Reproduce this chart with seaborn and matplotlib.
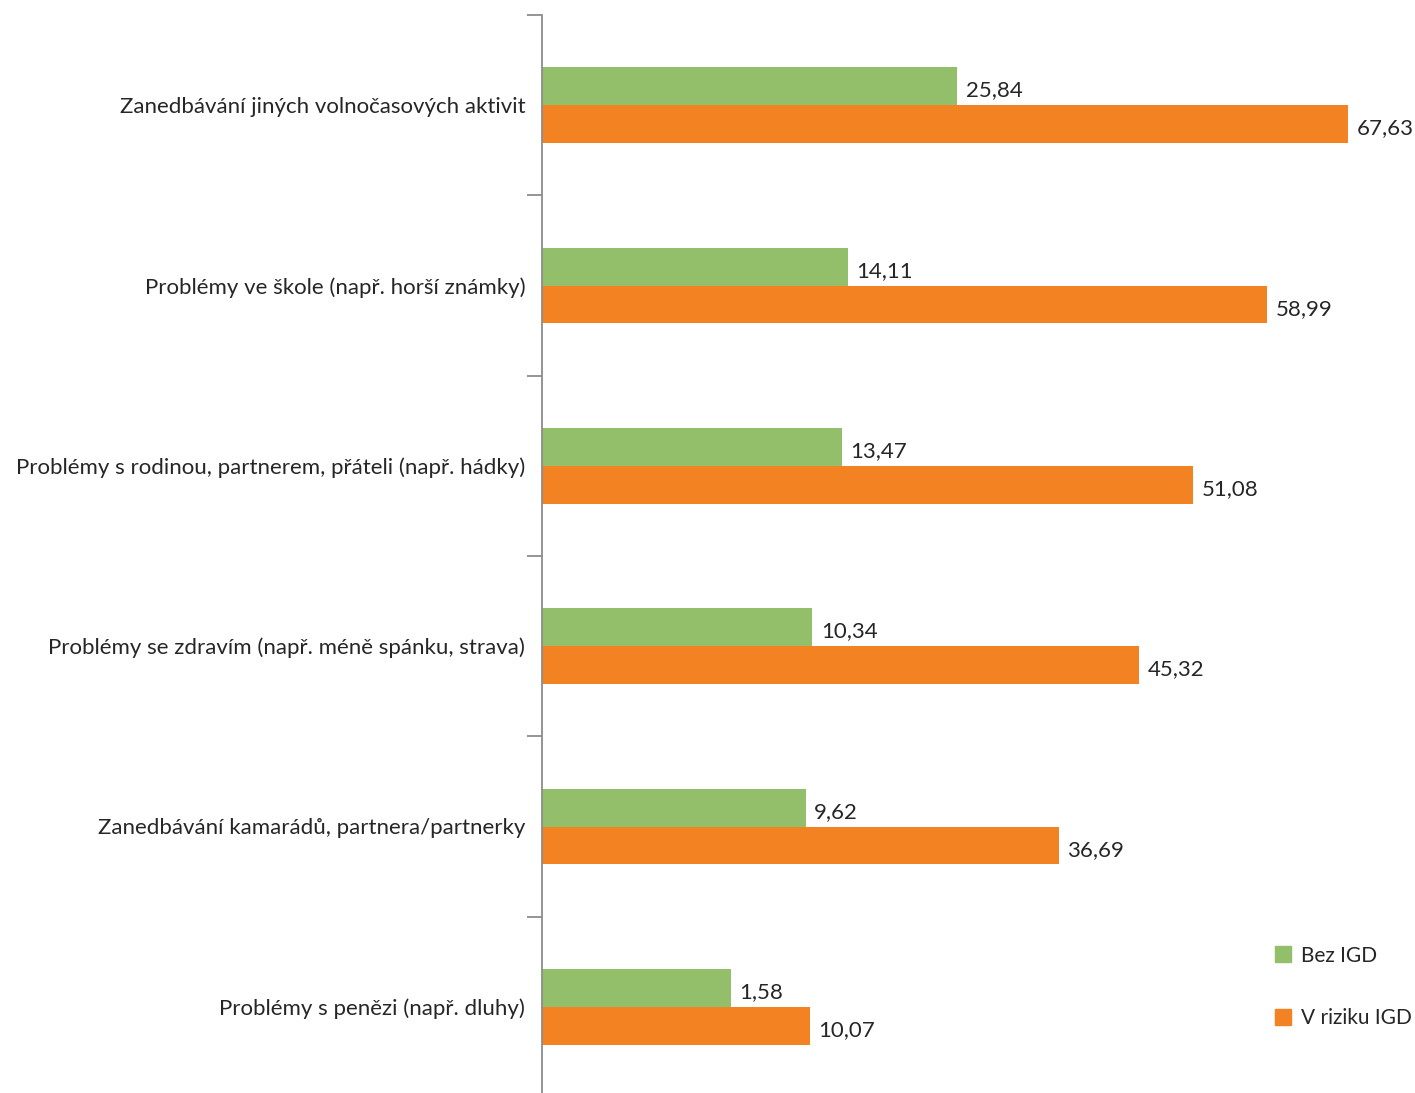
import matplotlib
matplotlib.use("Agg")
import matplotlib.pyplot as plt
import seaborn as sns
import pandas as pd

categories = [
    "Zanedbávání jiných volnočasových aktivit",
    "Problémy ve škole (např. horší známky)",
    "Problémy s rodinou, partnerem, přáteli (např. hádky)",
    "Problémy se zdravím (např. méně spánku, strava)",
    "Zanedbávání kamarádů, partnera/partnerky",
    "Problémy s penězi (např. dluhy)",
]
groups = ["Bez IGD", "V riziku IGD"]
bez_igd = [25.84, 14.11, 13.47, 10.34, 9.62, 1.58]
v_riziku_igd = [67.63, 58.99, 51.08, 45.32, 36.69, 10.07]
colors = ["#93BE6A", "#F28222"]

df = pd.DataFrame({
    "kategorie": categories * 2,
    "skupina": [groups[0]] * len(categories) + [groups[1]] * len(categories),
    "hodnota": bez_igd + v_riziku_igd,
})

sns.set_theme(style="white")
plt.rcParams["font.family"] = ["Lato", "DejaVu Sans"]
text_color = "#262626"
fs = 16

fig = plt.figure(figsize=(14.15, 10.93), dpi=100)
W, H = 1415, 1093
ax = fig.add_axes([542 / W, -4 / H, (1415 - 542) / W, (1093 - 11) / H])

sns.barplot(data=df, x="hodnota", y="kategorie", hue="skupina",
            order=categories, hue_order=groups, palette=colors,
            width=0.42, saturation=1, orient="h", ax=ax, legend=False)

# value axis crosses at its minimum, so bars grow from the left edge
xmin, xmax = -18.6, 74.8
ax.set_xlim(xmin, xmax)
for patch in ax.patches:
    right = patch.get_x() + patch.get_width()
    patch.set_x(xmin)
    patch.set_width(right - xmin)
    patch.set_linewidth(0)

for cont, vals in zip(ax.containers, [bez_igd, v_riziku_igd]):
    texts = ax.bar_label(cont, labels=[f"{v:.2f}".replace(".", ",") for v in vals],
                         padding=6, fontsize=fs, color=text_color)
    for t in texts:
        x, y = t.xyann
        t.xyann = (x, y - 3)

ax.set_xlabel("")
ax.set_ylabel("")
ax.set_xticks([])
for s in ["top", "right", "bottom"]:
    ax.spines[s].set_visible(False)
ax.spines["left"].set_color("#8C8C8C")
ax.spines["left"].set_linewidth(1.3)

# category tick marks sit on the band boundaries
n = len(categories)
ax.set_yticks([i - 0.5 for i in range(n + 1)], minor=True)
ax.tick_params(axis="y", which="minor", length=11, width=1.3, color="#8C8C8C",
               direction="out", left=True)
ax.tick_params(axis="y", which="major", length=0, pad=12,
               labelsize=fs, labelcolor=text_color)
ax.set_ylim(n - 0.5, -0.5)

handles = [plt.Rectangle((0, 0), 1, 1, color=c) for c in colors]
fig.legend(handles, groups, loc="upper left", bbox_to_anchor=(1258 / W, 1 - 929 / H),
           frameon=False, fontsize=15, handlelength=0.8, handleheight=0.8,
           handletextpad=0.45, labelspacing=2.05, labelcolor=text_color,
           borderpad=0.3)

fig.savefig("out.png", dpi=100)
